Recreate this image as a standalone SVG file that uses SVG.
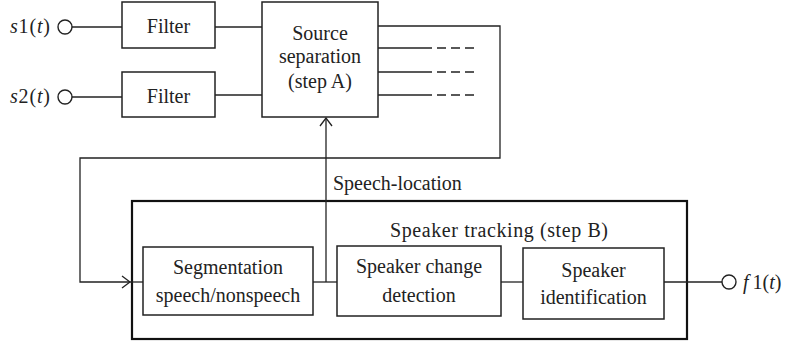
<svg xmlns="http://www.w3.org/2000/svg" width="793" height="345" viewBox="0 0 793 345">
  <style>
    .box { fill: #fff; stroke: #222; stroke-width: 1.5; }
    .frame { fill: none; stroke: #111; stroke-width: 2.2; }
    .wire { fill: none; stroke: #222; stroke-width: 1.3; }
    .dash { fill: none; stroke: #222; stroke-width: 1.3; stroke-dasharray: 9 5; }
    .port { fill: #fff; stroke: #222; stroke-width: 1.4; }
    text { font-family: 'Liberation Serif', 'DejaVu Serif', serif; font-size: 20px; fill: #222; }
    .c { text-anchor: middle; }
    .i { font-style: italic; }
  </style>
  <defs>
    <marker id="open" viewBox="0 0 10 14" refX="9" refY="7" markerWidth="10" markerHeight="14" markerUnits="userSpaceOnUse" orient="auto">
      <path d="M1,1 L9,7 L1,13" fill="none" stroke="#222" stroke-width="1.3"/>
    </marker>
  </defs>

  <!-- speaker tracking frame -->
  <rect class="frame" x="132" y="201" width="555" height="138"/>
  <text x="390" y="237" textLength="218" lengthAdjust="spacing">Speaker tracking (step B)</text>

  <g id="connectors">
    <line class="wire" x1="72" y1="27" x2="122" y2="27"/>
    <line class="wire" x1="72" y1="97" x2="122" y2="97"/>
    <line class="wire" x1="215" y1="27" x2="262" y2="27"/>
    <line class="wire" x1="215" y1="95" x2="262" y2="95"/>
    <!-- separated outputs -->
    <line class="wire" x1="378" y1="48" x2="432" y2="48"/>
    <line class="wire" x1="378" y1="72" x2="432" y2="72"/>
    <line class="wire" x1="378" y1="95" x2="432" y2="95"/>
    <line class="dash" x1="437" y1="48" x2="474" y2="48"/>
    <line class="dash" x1="437" y1="72" x2="474" y2="72"/>
    <line class="dash" x1="437" y1="95" x2="474" y2="95"/>
    <!-- feedback into speaker tracking -->
    <polyline class="wire" points="378,26 500,26 500,158 80,158 80,282 130,282" marker-end="url(#open)"/>
    <line class="wire" x1="130" y1="282" x2="143" y2="282"/>
    <!-- speech-location back to source separation -->
    <line class="wire" x1="326" y1="282" x2="326" y2="118" marker-end="url(#open)"/>
    <line class="wire" x1="313" y1="282" x2="337" y2="282"/>
    <line class="wire" x1="501" y1="282" x2="523" y2="282"/>
    <line class="wire" x1="664" y1="282" x2="722" y2="282"/>
  </g>

  <text x="333" y="190">Speech-location</text>

  <g id="in1">
    <circle class="port" cx="65" cy="27" r="7"/>
    <text x="10" y="33" textLength="40" lengthAdjust="spacing"><tspan class="i">s</tspan>1(<tspan class="i">t</tspan>)</text>
  </g>
  <g id="in2">
    <circle class="port" cx="65" cy="97" r="7"/>
    <text x="10" y="103" textLength="40" lengthAdjust="spacing"><tspan class="i">s</tspan>2(<tspan class="i">t</tspan>)</text>
  </g>
  <g id="filter1">
    <rect class="box" x="122" y="2" width="93" height="46"/>
    <text class="c" x="168.5" y="33">Filter</text>
  </g>
  <g id="filter2">
    <rect class="box" x="122" y="72" width="93" height="45"/>
    <text class="c" x="168.5" y="103">Filter</text>
  </g>
  <g id="source-separation">
    <rect class="box" x="262" y="2" width="116" height="115"/>
    <text class="c" x="320" y="40">Source</text>
    <text class="c" x="320" y="63">separation</text>
    <text class="c" x="320" y="88">(step A)</text>
  </g>
  <g id="segmentation">
    <rect class="box" x="143" y="247" width="170" height="68"/>
    <text class="c" x="228" y="274">Segmentation</text>
    <text class="c" x="228" y="302">speech/nonspeech</text>
  </g>
  <g id="change-detection">
    <rect class="box" x="337" y="246" width="164" height="70"/>
    <text class="c" x="419" y="273">Speaker change</text>
    <text class="c" x="419" y="302">detection</text>
  </g>
  <g id="identification">
    <rect class="box" x="523" y="248" width="141" height="71"/>
    <text class="c" x="593.5" y="277">Speaker</text>
    <text class="c" x="593.5" y="304">identification</text>
  </g>
  <g id="out1">
    <circle class="port" cx="729" cy="282" r="7"/>
    <text x="743" y="289"><tspan class="i">f</tspan><tspan dx="4">1(</tspan><tspan class="i">t</tspan>)</text>
  </g>
</svg>
